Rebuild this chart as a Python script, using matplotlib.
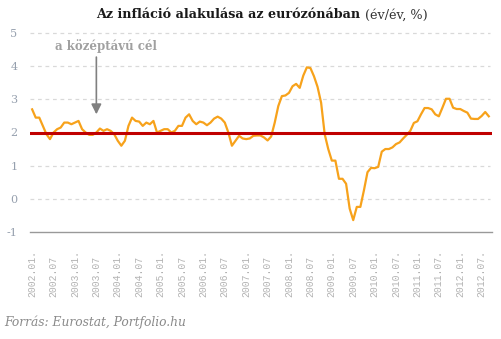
import matplotlib
matplotlib.use("Agg")
import matplotlib.pyplot as plt
import numpy as np

# Euro area HICP, annual rate of change (%), monthly, 2002.01 - 2012.09
inflation = [
    # 2002
    2.7, 2.45, 2.45, 2.2, 1.95, 1.8, 2.0, 2.1, 2.15, 2.3, 2.3, 2.25,
    # 2003
    2.3, 2.35, 2.1, 2.0, 1.93, 1.93, 2.0, 2.12, 2.05, 2.1, 2.05, 1.95,
    # 2004
    1.75, 1.6, 1.75, 2.2, 2.45, 2.35, 2.33, 2.2, 2.3, 2.25, 2.35, 2.0,
    # 2005
    2.05, 2.1, 2.1, 2.0, 2.05, 2.2, 2.2, 2.45, 2.55, 2.35, 2.25, 2.33,
    # 2006
    2.3, 2.22, 2.3, 2.42, 2.48, 2.42, 2.3, 2.0, 1.6, 1.75, 1.9, 1.82,
    # 2007
    1.8, 1.82, 1.9, 1.91, 1.91, 1.85, 1.76, 1.88, 2.3, 2.8, 3.1, 3.12,
    # 2008
    3.2, 3.4, 3.47, 3.35, 3.72, 3.97, 3.95, 3.7, 3.38, 2.9, 1.95, 1.5,
    # 2009
    1.15, 1.15, 0.6, 0.6, 0.45, -0.3, -0.65, -0.25, -0.25, 0.25, 0.8, 0.93,
    # 2010
    0.92, 0.96, 1.42, 1.5, 1.5, 1.55, 1.65, 1.7, 1.82, 1.93, 2.05, 2.29,
    # 2011
    2.34, 2.55, 2.74, 2.74, 2.7, 2.55, 2.49, 2.75, 3.02, 3.02, 2.75, 2.71,
    # 2012
    2.71, 2.65, 2.6, 2.42, 2.41, 2.41, 2.5, 2.62, 2.49,
]
ecb_target = 2.0

tick_labels = [
    "2002.01.", "2002.07", "2003.01.", "2003.07", "2004.01.", "2004.07",
    "2005.01.", "2005.07", "2006.01.", "2006.07", "2007.01.", "2007.07",
    "2008.01.", "2008.07", "2009.01.", "2009.07", "2010.01.", "2010.07.",
    "2011.01.", "2011.07.", "2012.01.", "2012.07.",
]
y_ticks = [-1, 0, 1, 2, 3, 4, 5]

months = np.arange(len(inflation))
tick_pos = np.arange(len(tick_labels)) * 6

fig = plt.figure(figsize=(5.02, 3.39), dpi=100)
ax = fig.add_axes([30 / 502, 1 - 231.7 / 339, 462 / 502, 198.4 / 339])

ax.set_xlim(-0.6, 128.9)
ax.set_ylim(-1, 5)

# dashed horizontal grid
for v in y_ticks[1:]:
    ax.axhline(v, color="#d9d9d9", lw=0.9, ls=(0, (3, 3)), zorder=1,
               xmax=0.996, clip_on=False)

ax.plot(months, inflation, color="#f7a21b", lw=1.6, zorder=3,
        solid_joinstyle="round")
ax.axhline(ecb_target, color="#c00000", lw=2.2, zorder=4)

for s in ["top", "right", "left"]:
    ax.spines[s].set_visible(False)
ax.spines["bottom"].set_color("#999999")
ax.spines["bottom"].set_linewidth(1.0)
ax.spines["bottom"].set_position(("data", -1))

ax.set_yticks(y_ticks)
ax.set_yticklabels([str(v) for v in y_ticks], family="DejaVu Serif",
                   fontsize=8, color="#96a0ae")
ax.tick_params(axis="y", length=0, pad=9)

ax.set_xticks(tick_pos)
ax.set_xticklabels(tick_labels, rotation=90, family="Liberation Mono",
                   fontsize=7, color="#b3b3b3")
ax.tick_params(axis="x", length=0, pad=47)
for lab in ax.get_xticklabels():
    lab.set_verticalalignment("bottom")

# annotation: medium-term target
ax.annotate("", xy=(18.0, 2.55), xytext=(18.0, 4.28),
            arrowprops=dict(arrowstyle="-|>,head_length=0.6,head_width=0.3",
                            color="#808080", lw=1.2, shrinkA=0, shrinkB=0),
            zorder=5)
ax.text(20.7, 4.62, "a középtávú cél", family="DejaVu Serif", weight="bold",
        fontsize=8.5, color="#a0a0a0", ha="center", va="center")

# title: bold part + regular part, centred over the axes
renderer = fig.canvas.get_renderer()
t1 = fig.text(0, 1 - 15 / 339, "Az infláció alakulása az eurózónában",
              family="DejaVu Serif", weight="bold", fontsize=9.2,
              color="#1a1a1a", ha="left", va="center")
t2 = fig.text(0, 1 - 15 / 339, " (év/év, %)", family="DejaVu Serif",
              fontsize=9.2, color="#333333", ha="left", va="center")
w1 = t1.get_window_extent(renderer).width
w2 = t2.get_window_extent(renderer).width
cx = 262
x0 = cx - (w1 + w2) / 2
t1.set_x(x0 / 502)
t2.set_x((x0 + w1) / 502)

fig.text(4 / 502, 1 - 322 / 339, "Forrás: Eurostat, Portfolio.hu",
         family="DejaVu Serif", style="italic", fontsize=8.8,
         color="#8a8a8a", ha="left", va="center")

fig.savefig("out.png", dpi=100, facecolor="white")
